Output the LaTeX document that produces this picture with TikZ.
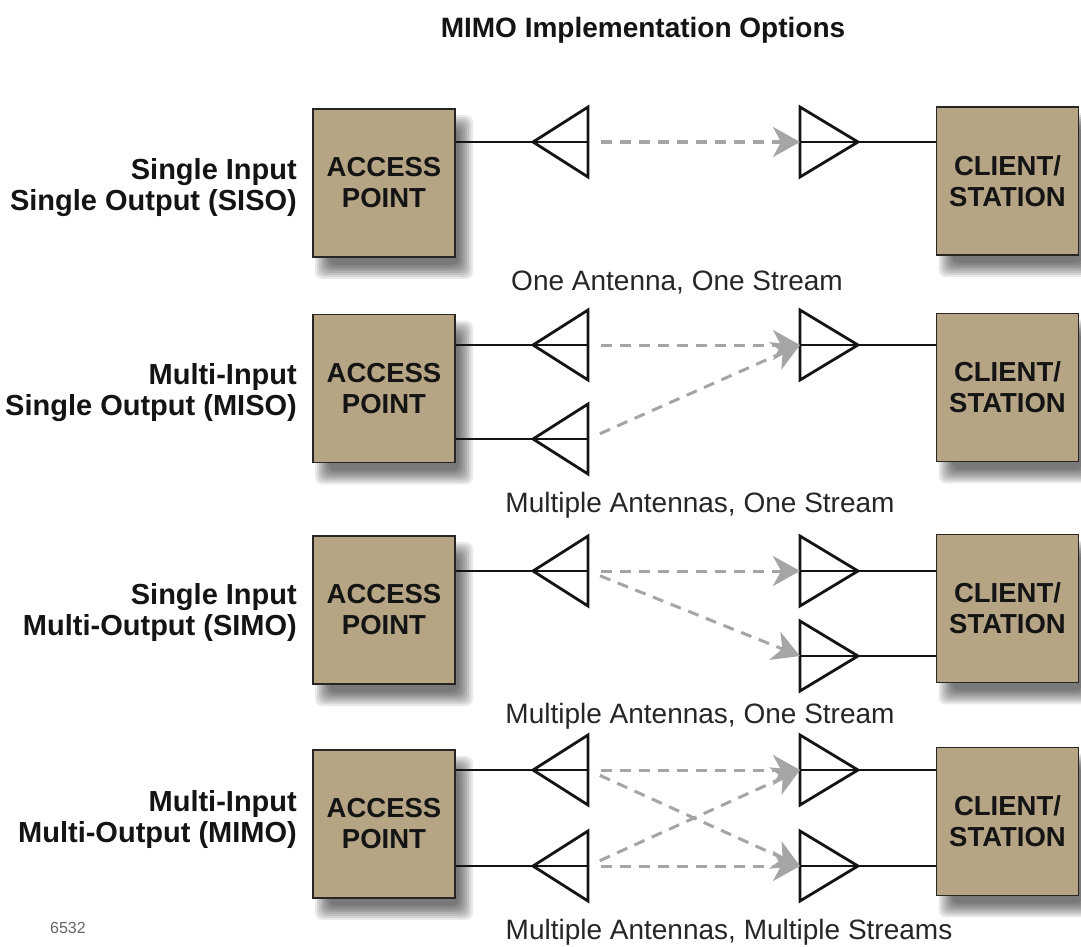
\documentclass[tikz,border=0pt]{standalone}
\usepackage{fontspec}
\setmainfont{Liberation Sans}
\usetikzlibrary{arrows.meta,calc,backgrounds}
\definecolor{boxtan}{RGB}{181,165,132}
\definecolor{boxedge}{RGB}{40,38,34}
\definecolor{streamgray}{RGB}{165,165,165}
\definecolor{inkblack}{RGB}{20,20,20}
\tikzset{
  unitbox/.style={draw=boxedge, line width=1.8pt, fill=boxtan, minimum width=142pt,
    minimum height=148pt, inner sep=0pt, align=center,
    font=\fontsize{27.5}{31}\selectfont\bfseries, text=inkblack},
  ant/.style={line width=2.8pt, line join=miter, draw=inkblack},
  feed/.style={line width=2.7pt, draw=inkblack},
  stream/.style={streamgray, line width=3pt, dash pattern=on 11pt off 8pt,
    -{Stealth[length=27pt,width=30pt,inset=8pt]}, shorten <=13pt},
  rowlabel/.style={anchor=east, align=right, font=\fontsize{29}{31}\selectfont\bfseries,
    text=inkblack, inner sep=0pt},
  caption/.style={font=\fontsize{28}{31}\selectfont, text=black!85, inner sep=0pt},
  txant/.pic={\draw[ant] (0,0) -- (55,-35) -- (55,35) -- cycle; \draw[ant] (0,0) -- (55,0);
    \coordinate (-apex) at (0,0); \coordinate (-back) at (55,0);},
  rxant/.pic={\draw[ant] (58,0) -- (0,-35) -- (0,35) -- cycle; \draw[ant] (0,0) -- (58,0);
    \coordinate (-apex) at (58,0); \coordinate (-back) at (0,0);},
}
% soft shadow below and right of a box node
\newcommand\castshadow[1]{%
  \foreach \e in {-7,-5,...,7}{%
    \fill[black,opacity=0.085,rounded corners=7pt]
      ($(#1.south west)+(10-\e,14+\e)$) rectangle ($(#1.north east)+(10+\e,14-\e)$);}}

\begin{document}
\begin{tikzpicture}[x=1pt,y=-1pt]
\useasboundingbox (0,0) rectangle (1081,947);

% title and figure number
\node[font=\fontsize{28}{31}\selectfont\bfseries, text=inkblack, inner sep=0pt] (title) at (643,30) {MIMO Implementation Options};
\node[font=\fontsize{16}{18}\selectfont, text=black!60, inner sep=0pt] (fignum) at (68,928) {6532};

% access points and clients
\node[unitbox] (ap1) at (384,183) {ACCESS\\POINT};
\node[unitbox] (cs1) at (1007.5,181) {CLIENT/\\STATION};
\node[unitbox] (ap2) at (384,388.5) {ACCESS\\POINT};
\node[unitbox] (cs2) at (1007.5,387.5) {CLIENT/\\STATION};
\node[unitbox] (ap3) at (384,610) {ACCESS\\POINT};
\node[unitbox] (cs3) at (1007.5,608.5) {CLIENT/\\STATION};
\node[unitbox] (ap4) at (384,824) {ACCESS\\POINT};
\node[unitbox] (cs4) at (1007.5,821.5) {CLIENT/\\STATION};

\begin{scope}[on background layer]
  \fill[white] (0,0) rectangle (1081,947);
  \foreach \b in {ap1,cs1,ap2,cs2,ap3,cs3,ap4,cs4}{\castshadow{\b}}
\end{scope}

% row labels
\node[rowlabel] (l1) at (297,187.5) {Single Input\\Single Output (SISO)};
\node[rowlabel] (l2) at (297,392.5) {Multi-Input\\Single Output (MISO)};
\node[rowlabel] (l3) at (297,612.5) {Single Input\\Multi-Output (SIMO)};
\node[rowlabel] (l4) at (297,819) {Multi-Input\\Multi-Output (MIMO)};

% captions
\node[caption] (c1) at (677,283) {One Antenna, One Stream};
\node[caption] (c2) at (700,505) {Multiple Antennas, One Stream};
\node[caption] (c3) at (700,716) {Multiple Antennas, One Stream};
\node[caption] (c4) at (729,932) {Multiple Antennas, Multiple Streams};

% antennas
\pic (t1) at (533,142) {txant};
\pic (r1) at (800,142) {rxant};
\pic (t2a) at (533,345) {txant};
\pic (t2b) at (533,439) {txant};
\pic (r2) at (800,345) {rxant};
\pic (t3) at (533,571) {txant};
\pic (r3a) at (800,571) {rxant};
\pic (r3b) at (800,656) {rxant};
\pic (t4a) at (533,770) {txant};
\pic (t4b) at (533,866) {txant};
\pic (r4a) at (800,770) {rxant};
\pic (r4b) at (800,866) {rxant};

% feed lines
\foreach \t/\b in {t1/ap1,t2a/ap2,t2b/ap2,t3/ap3,t4a/ap4,t4b/ap4}{
  \draw[feed] (\b.east |- \t-apex) -- (\t-apex);}
\foreach \r/\b in {r1/cs1,r2/cs2,r3a/cs3,r3b/cs3,r4a/cs4,r4b/cs4}{
  \draw[feed] (\r-apex) -- (\b.west |- \r-apex);}

% streams
\draw[stream] (t1-back) -- (r1-back);
\draw[stream] (t2a-back) -- (r2-back);
\draw[stream] (t2b-back) -- (r2-back);
\draw[stream] (t3-back) -- (r3a-back);
\draw[stream] (t3-back) -- (r3b-back);
\draw[stream] (t4a-back) -- (r4a-back);
\draw[stream] (t4a-back) -- (r4b-back);
\draw[stream] (t4b-back) -- (r4a-back);
\draw[stream] (t4b-back) -- (r4b-back);
\end{tikzpicture}
\end{document}
